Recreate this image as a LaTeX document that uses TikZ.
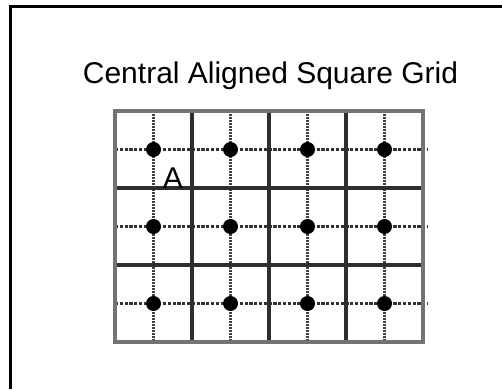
\documentclass[tikz,border=0pt]{standalone}
\usepackage{fontspec}
\setmainfont{Liberation Sans}
\usetikzlibrary{positioning}

\tikzset{
  gridline/.style={line width=3.4pt, black!82},
  edgeline/.style={line width=3.8pt, black!55},
  hdots/.style={line width=3pt, black!80, dash pattern=on 3.2pt off 1.6pt},
  vdots/.style={line width=2.8pt, black!75, dash pattern=on 1.8pt off 1.2pt},
  dot/.style={circle, fill=black, inner sep=0pt, minimum size=15pt},
}

\begin{document}
\begin{tikzpicture}[x=1pt,y=-1pt]
\useasboundingbox (0,0) rectangle (502,389);
\fill[white] (0,0) rectangle (502,389);
% frame, only top and left edges show
\draw[line width=3pt] (10.5,389) -- (10.5,6.5) -- (502,6.5);
\node[anchor=base, font=\fontsize{30}{36}\selectfont] (title) at (270.5,83) {Central Aligned Square Grid};

\begin{scope}[shift={(115pt,-111pt)}, x=77pt, y=-77pt]
% dotted centre lines
\draw[vdots] (0.5,0) -- (0.5,3);
\draw[vdots] (1.5,0) -- (1.5,3);
\draw[vdots] (2.5,0) -- (2.5,3);
\draw[vdots] (3.5,0) -- (3.5,3);
\draw[hdots] (0,0.5) -- (4.065,0.5);
\draw[hdots] (0,1.5) -- (4.065,1.5);
\draw[hdots] (0,2.5) -- (4.065,2.5);
% solid grid
\draw[gridline] (1,0) -- (1,3);
\draw[gridline] (2,0) -- (2,3);
\draw[gridline] (3,0) -- (3,3);
\draw[gridline] (0,1) -- (4,1);
\draw[gridline] (0,2) -- (4,2);
\draw[edgeline] (0,0) rectangle (4,3);
% centre points
\node[dot] (p11) at (0.5,0.5) {};
\node[dot] (p12) at (1.5,0.5) {};
\node[dot] (p13) at (2.5,0.5) {};
\node[dot] (p14) at (3.5,0.5) {};
\node[dot] (p21) at (0.5,1.5) {};
\node[dot] (p22) at (1.5,1.5) {};
\node[dot] (p23) at (2.5,1.5) {};
\node[dot] (p24) at (3.5,1.5) {};
\node[dot] (p31) at (0.5,2.5) {};
\node[dot] (p32) at (1.5,2.5) {};
\node[dot] (p33) at (2.5,2.5) {};
\node[dot] (p34) at (3.5,2.5) {};
\node[anchor=base west, inner sep=0pt, font=\fontsize{30}{36}\selectfont] (A) at (0.62,1) {A};
\end{scope}
\end{tikzpicture}
\end{document}
